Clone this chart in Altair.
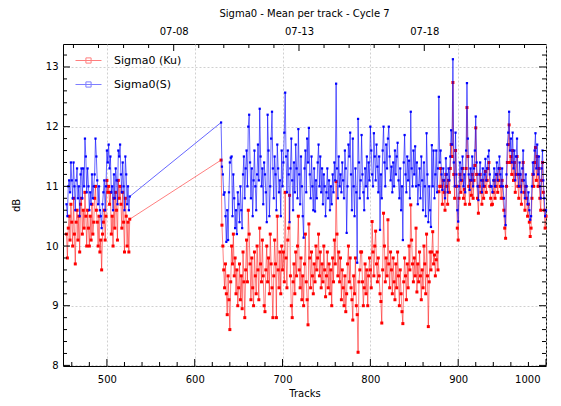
import altair as alt
import pandas as pd

# ---------------- data ----------------
track_seg1 = list(range(454, 527))
track_seg2 = list(range(630, 1001))

s_seg1 = [10.7, 10.5, 11.0, 11.1, 10.9, 11.4, 11.1, 10.8, 11.4, 11.0,
          10.6, 11.1, 11.3, 10.8, 11.0, 10.5, 11.2, 11.3, 10.8, 11.3,
          11.0, 11.8, 11.5, 10.9, 11.3, 11.0, 10.6, 10.9, 10.7, 11.2,
          10.8, 11.0, 11.2, 11.8, 11.5, 11.1, 10.7, 11.0, 10.6, 10.5,
          10.3, 10.7, 10.9, 11.1, 10.6, 11.0, 11.6, 11.4, 11.7, 11.3,
          11.5, 10.9, 11.0, 10.6, 11.2, 10.8, 11.3, 11.1, 10.7, 11.6,
          11.5, 11.7, 11.2, 10.9, 11.4, 11.0, 10.6, 11.5, 11.2, 10.7,
          11.0, 10.6, 10.83]

ku_seg1 = [10.2, 9.8, 10.3, 10.5, 10.1, 10.7, 10.4, 10.0, 10.8, 10.2,
           9.7, 10.4, 10.6, 10.1, 10.5, 9.9, 10.7, 10.8, 10.2, 10.6,
           10.3, 10.9, 10.5, 10.0, 10.6, 10.3, 10.0, 10.5, 10.1, 10.7,
           10.2, 10.4, 10.8, 11.0, 10.6, 10.4, 10.0, 10.5, 9.9, 10.1,
           9.6, 10.2, 10.4, 10.6, 10.1, 10.5, 11.1, 10.9, 11.0, 10.7,
           10.9, 10.2, 10.5, 10.0, 10.8, 10.3, 10.9, 10.6, 10.1, 11.1,
           10.8, 11.0, 10.7, 10.3, 10.9, 10.4, 9.9, 10.8, 10.5, 10.0,
           10.4, 9.9, 10.45]

s_seg2 = [12.07, 11.33, 11.2, 10.86, 10.9, 10.5, 10.07, 10.6, 10.1, 10.9,
          11.4, 11.48, 11.5, 10.5, 11.2, 10.8, 10.3, 10.6, 10.2, 10.9,
          10.7, 10.4, 11.0, 10.6, 10.3, 11.2, 11.5, 10.8, 11.3, 11.6,
          11.0, 12.0, 12.2, 11.4, 10.8, 11.3, 10.5, 11.1, 11.6, 11.0,
          10.6, 11.2, 11.7, 11.1, 12.3, 11.5, 11.0, 11.3, 10.7, 11.4,
          11.2, 10.9, 10.4, 12.2, 11.6, 10.5, 11.0, 11.8, 12.25, 11.3,
          10.8, 11.5, 11.2, 10.6, 11.7, 11.3, 10.9, 11.1, 10.5, 11.6,
          11.0, 11.4, 11.9, 12.57, 11.5, 10.9, 11.6, 11.2, 10.4, 11.3,
          11.8, 11.1, 10.6, 11.4, 10.9, 11.7, 11.3, 10.8, 11.96, 11.2,
          10.7, 11.5, 11.0, 10.5, 10.14, 11.3, 11.6, 10.9, 11.8, 11.4,
          11.98, 11.2, 10.8, 11.5, 11.0, 10.6, 11.3, 10.58, 11.1, 10.8,
          11.4, 11.7, 11.0, 11.5, 10.9, 11.3, 10.7, 11.2, 11.0, 10.5,
          10.9, 11.3, 10.8, 11.1, 10.6, 11.0, 10.7, 11.2, 10.9, 11.4,
          11.1, 12.72, 11.3, 10.8, 11.5, 11.0, 11.2, 10.9, 11.4, 11.1,
          10.8, 11.6, 11.3, 10.22, 11.0, 11.7, 11.5, 11.9, 11.2, 10.6,
          11.8, 11.0, 10.5, 11.3, 10.9, 9.72, 12.13, 11.4, 10.8, 11.1,
          11.86, 11.2, 10.9, 10.6, 11.3, 11.0, 11.5, 10.8, 11.4, 11.1,
          12.0, 11.6, 11.2, 11.0, 11.89, 11.5, 11.1, 11.7, 11.33, 10.9,
          11.5, 10.27, 11.2, 10.8, 11.6, 12.0, 11.4, 11.0, 11.7, 11.3,
          11.8, 12.0, 11.5, 11.1, 11.33, 10.9, 11.4, 11.0, 11.6, 11.2,
          11.5, 11.73, 11.1, 10.8, 11.3, 10.6, 11.0, 10.1, 11.4, 11.86,
          11.2, 10.9, 11.5, 11.1, 11.43, 10.8, 12.25, 11.3, 11.0, 11.6,
          11.2, 11.67, 11.0, 11.4, 10.7, 11.02, 11.3, 10.8, 11.5, 11.1,
          10.6, 11.4, 11.0, 10.5, 11.89, 11.2, 10.4, 11.0, 10.6, 10.32,
          11.69, 11.0, 11.6, 10.8, 11.2, 11.6, 10.9, 11.3, 12.5, 11.4,
          11.6, 11.2, 10.94, 11.3, 11.1, 10.8, 11.47, 11.2, 10.9, 11.3,
          11.1, 11.5, 11.94, 11.7, 13.13, 11.4, 11.0, 11.9, 11.2, 10.6,
          10.41, 11.0, 11.4, 11.1, 11.3, 11.5, 11.0, 11.2, 10.9, 11.6,
          12.73, 11.8, 11.2, 10.94, 11.3, 11.1, 11.5, 11.0, 11.3, 11.6,
          12.17, 11.4, 11.0, 10.77, 11.2, 11.4, 11.1, 10.9, 11.3, 11.0,
          11.2, 11.46, 11.1, 11.3, 11.5, 11.6, 11.2, 11.0, 11.0, 10.9,
          11.1, 11.3, 11.0, 11.2, 11.4, 11.1, 11.3, 11.5, 11.2, 11.0,
          11.3, 11.0, 10.8, 10.5, 10.35, 11.2, 11.7, 11.9, 12.25, 11.6,
          11.8, 11.4, 11.9, 11.3, 11.6, 11.1, 11.5, 11.8, 11.2, 11.0,
          11.4, 11.2, 10.9, 11.3, 11.6, 11.1, 10.8, 11.2, 11.0, 10.7,
          10.9, 10.6, 10.44, 10.5, 11.0, 11.4, 11.2, 11.6, 11.89, 11.3,
          11.7, 11.2, 11.5, 11.0, 10.8, 11.3, 11.6, 11.1, 10.8, 10.5, 10.6]

ku_seg2 = [11.44, 10.35, 10.0, 9.6, 9.3, 9.7, 9.2, 8.85, 9.5, 9.1,
           8.6, 9.4, 10.0, 9.7, 10.2, 9.5, 9.8, 9.2, 9.6, 9.0,
           9.3, 9.7, 9.1, 9.5, 8.95, 9.9, 9.4, 8.8, 9.6, 10.1,
           9.4, 10.6, 10.2, 9.7, 9.1, 9.8, 9.3, 9.0, 9.9, 9.5,
           9.2, 10.0, 9.6, 9.1, 10.3, 9.7, 9.4, 10.1, 9.5, 9.0,
           8.9, 9.6, 10.0, 9.4, 9.8, 9.2, 10.2, 9.7, 9.3, 8.8,
           9.5, 10.1, 9.7, 8.8, 10.5, 9.6, 9.3, 9.9, 9.2, 10.0,
           9.6, 9.9, 9.4, 10.9, 9.8, 9.3, 10.1, 10.3, 10.85, 9.5,
           9.0, 8.8, 9.4, 9.7, 9.2, 9.9, 9.5, 10.0, 10.5, 9.6,
           9.3, 9.8, 9.1, 9.5, 9.0, 9.7, 10.2, 9.4, 9.1, 8.68,
           10.37, 9.8, 9.3, 9.9, 9.5, 9.2, 9.7, 9.4, 10.0, 9.6,
           9.8, 10.2, 9.5, 9.9, 9.3, 9.7, 9.4, 10.0, 9.6, 9.15,
           9.5, 9.9, 9.3, 9.7, 9.2, 9.6, 9.0, 9.8, 9.4, 10.1,
           9.7, 11.08, 10.2, 9.5, 9.9, 9.4, 9.8, 9.1, 9.6, 9.3,
           9.0, 9.5, 8.9, 9.2, 9.7, 10.0, 9.4, 9.8, 9.3, 9.1,
           8.76, 9.5, 9.2, 9.8, 9.0, 8.85, 8.22, 9.4, 9.6, 9.9,
           9.9, 9.4, 9.0, 9.3, 9.7, 9.2, 9.6, 9.0, 9.5, 9.8,
           9.6, 9.3, 10.41, 9.9, 9.5, 10.0, 10.25, 9.7, 9.4, 9.8,
           9.5, 9.2, 9.07, 8.71, 9.6, 10.55, 10.0, 9.4, 9.8, 9.5,
           10.44, 9.7, 9.3, 9.9, 9.6, 9.2, 9.8, 9.4, 9.1, 9.7,
           9.3, 9.9, 9.5, 9.0, 9.6, 9.2, 8.9, 8.7, 9.4, 9.8,
           9.5, 9.1, 9.7, 9.3, 10.0, 9.6, 10.69, 10.1, 9.7, 9.4,
           9.8, 9.5, 10.3, 9.23, 9.7, 9.4, 9.9, 9.5, 9.1, 9.6,
           9.3, 10.0, 9.7, 9.2, 10.2, 9.5, 8.65, 9.4, 9.9, 9.6,
           9.9, 10.24, 9.7, 9.85, 9.5, 9.77, 9.9, 9.6, 10.91, 11.0,
           11.3, 11.0, 10.7, 11.1, 10.9, 10.6, 11.2, 11.0, 10.7, 11.1,
           10.9, 11.3, 11.7, 11.5, 12.74, 11.2, 10.8, 11.6, 11.0, 10.3,
           10.1, 10.8, 11.2, 10.9, 11.1, 11.3, 10.8, 10.95, 10.7, 11.3,
           12.32, 11.5, 11.0, 10.7, 11.1, 10.85, 11.2, 10.8, 11.1, 11.35,
           11.98, 11.2, 10.8, 10.55, 11.0, 11.2, 10.9, 10.7, 11.1, 10.8,
           11.0, 11.25, 10.9, 11.1, 11.3, 11.4, 11.0, 10.8, 10.69, 10.7,
           10.9, 11.1, 10.8, 11.0, 11.2, 10.9, 11.1, 11.3, 11.0, 10.8,
           11.1, 10.8, 10.6, 10.3, 10.13, 11.0, 11.4, 11.7, 12.03, 11.4,
           11.5, 11.2, 11.6, 11.1, 11.4, 10.9, 11.2, 11.5, 11.0, 10.8,
           11.2, 11.0, 10.7, 11.1, 11.4, 10.9, 10.6, 11.0, 10.8, 10.5,
           10.7, 10.4, 10.16, 10.3, 10.8, 11.2, 11.0, 11.4, 11.65, 11.1,
           11.5, 11.0, 11.3, 10.8, 10.6, 11.1, 11.4, 10.9, 10.6, 10.3, 10.5]

series_names = ["Sigma0 (Ku)", "Sigma0(S)"]
series_colors = ["#ff0000", "#0000ff"]

x_major = [500, 600, 700, 800, 900, 1000]
x_minor = [460, 480, 520, 540, 560, 580, 620, 640, 660, 680, 720, 740, 760, 780,
           820, 840, 860, 880, 920, 940, 960, 980]
y_major = [8, 9, 10, 11, 12, 13]
y_minor = [8.2, 8.4, 8.6, 8.8, 9.2, 9.4, 9.6, 9.8, 10.2, 10.4, 10.6, 10.8,
           11.2, 11.4, 11.6, 11.8, 12.2, 12.4, 12.6, 12.8, 13.2]
day_major = [8, 13, 18]
day_minor = [4, 5, 6, 7, 9, 10, 11, 12, 14, 15, 16, 17, 19, 20, 21, 22]
day_domain = [3.583, 22.857]

tracks = track_seg1 + track_seg2
ku = ku_seg1 + ku_seg2
s = s_seg1 + s_seg2
assert len(tracks) == len(ku) == len(s), (len(tracks), len(ku), len(s))

df_ku = pd.DataFrame({"track": tracks, "db": ku, "series": series_names[0]})
df_s = pd.DataFrame({"track": tracks, "db": s, "series": series_names[1]})

# ---------------- chart ----------------
W, H = 483, 322
FONT = "DejaVu Sans"
GRID = dict(gridColor="#c4c4c4", gridDash=[2, 2], gridWidth=0.8)

xs = alt.Scale(domain=[450, 1000], nice=False, zero=False)
ys = alt.Scale(domain=[7.99, 13.385], nice=False, zero=False)

X = alt.X("track:Q", scale=xs,
          axis=alt.Axis(title="Tracks", values=x_major, format="d", grid=True, ticks=False,
                        tickSize=0, domain=False, labelPadding=8, labelFontSize=10,
                        labelOffset={"condition": {"test": "datum.value >= 1000", "value": -6},
                                     "value": 0},
                        titleFontSize=10, titleFontWeight="normal",
                        titleY=27, titleBaseline="middle", labelColor="black",
                        titleColor="black", **GRID))
Y = alt.Y("db:Q", scale=ys,
          axis=alt.Axis(title="dB", values=y_major, grid=True, ticks=False, tickSize=0,
                        domain=False, labelPadding=5, labelFontSize=10, titleFontSize=10,
                        titleFontWeight="normal", titlePadding=24, labelColor="black",
                        titleColor="black", **GRID))

cs = alt.Scale(domain=series_names, range=series_colors)
legend = alt.Legend(title=None, orient="none", legendX=12, legendY=3,
                    symbolType="M-1,0H1M-0.2,-0.2H0.2V0.2H-0.2Z", symbolSize=676,
                    symbolStrokeWidth=1, labelFontSize=11, labelOffset=12,
                    rowPadding=5, padding=0, labelFont=FONT, labelColor="black")

color_enc = alt.Color("series:N", scale=cs, legend=legend)

red_line = alt.Chart(df_ku).mark_line(strokeWidth=1, opacity=0.5).encode(x=X, y=Y, color=color_enc)
red_pts = alt.Chart(df_ku).mark_square(size=9, opacity=1, color="#ff0000").encode(x=X, y=Y)
blue_line = alt.Chart(df_s).mark_line(strokeWidth=1, opacity=0.6).encode(x=X, y=Y, color=color_enc)
blue_pts = alt.Chart(df_s).mark_square(size=5, opacity=1, color="#0000ff").encode(x=X, y=Y)

def xticks(vals, length):
    return alt.Chart(pd.DataFrame({"track": vals})).mark_rule(color="black", strokeWidth=1).encode(
        x=X, y=alt.value(H), y2=alt.value(H - length))

def yticks(vals, length, right=False):
    x0 = W if right else 0
    x1 = W - length if right else length
    return alt.Chart(pd.DataFrame({"db": vals})).mark_rule(color="black", strokeWidth=1).encode(
        y=Y, x=alt.value(x0), x2=alt.value(x1))

track_layers = alt.layer(
    red_line, red_pts, blue_line, blue_pts,
    xticks(x_major, 7), xticks(x_minor, 4),
    yticks(y_major, 7), yticks(y_minor, 4),
    yticks(y_major, 7, True), yticks(y_minor, 4, True),
)

D = alt.X("day:Q", scale=alt.Scale(domain=day_domain, nice=False, zero=False),
          axis=alt.Axis(orient="top", values=day_major, title=None, ticks=False, tickSize=0,
                        domain=False, grid=False, labelPadding=8, labelFontSize=10,
                        labelColor="black",
                        labelExpr="datum.value < 10 ? '07-0' + datum.value : '07-' + datum.value"))

def dticks(vals, length):
    return alt.Chart(pd.DataFrame({"day": vals})).mark_rule(color="black", strokeWidth=1).encode(
        x=D, y=alt.value(0), y2=alt.value(length))

day_layers = alt.layer(dticks(day_major, 7), dticks(day_minor, 4))

chart = alt.layer(track_layers, day_layers).resolve_scale(x="independent").properties(
    width=W, height=H,
    title=alt.TitleParams("Sigma0 - Mean per track - Cycle 7", fontSize=10, font=FONT,
                          fontWeight="normal", anchor="middle", offset=7, color="black"),
    autosize=alt.AutoSizeParams(type="none"),
    padding={"left": 55, "top": 36, "right": 7, "bottom": 32},
).configure(font=FONT).configure_view(stroke="black", strokeWidth=1).configure_axis(
    labelFont=FONT, titleFont=FONT)

chart.save("out.html", embed_options={"renderer": "svg", "actions": False})
